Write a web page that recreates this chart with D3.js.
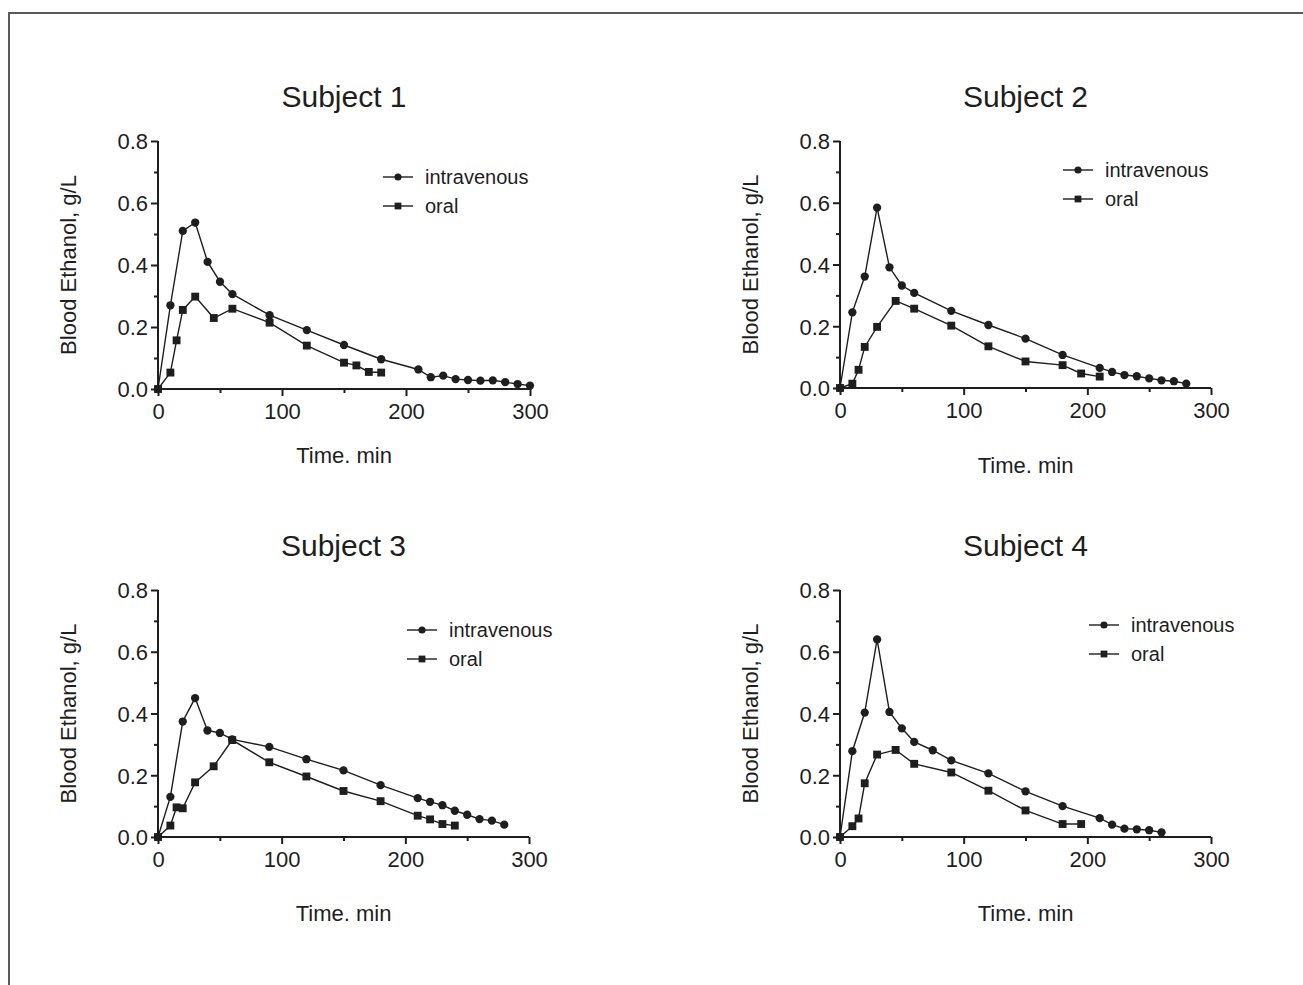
<!DOCTYPE html>
<head>
    <meta charset="utf-8">
    <script src="https://d3js.org/d3.v7.min.js"></script>
    <style>
        body { margin: 0; background: #fff; }
        text { font-family: "Liberation Sans", Arial, sans-serif; fill: #1e1e1e; }
    </style>
</head>

<body>
    <div id="chart"></div>
</body>

<script>

    // ---- data (time in min, blood ethanol in g/L) ----
    const subjects = ["Subject 1", "Subject 2", "Subject 3", "Subject 4"];
    const seriesNames = ["intravenous", "oral"];

    const ivTime1 = [0, 10, 20, 30, 40, 50, 60, 90, 120, 150, 180, 210, 220, 230, 240, 250, 260, 270, 280, 290, 300];
    const ivConc1 = [0, 0.27, 0.51, 0.537, 0.41, 0.346, 0.306, 0.238, 0.19, 0.142, 0.096, 0.063, 0.038, 0.043, 0.032, 0.029, 0.027, 0.028, 0.022, 0.016, 0.011];
    const oralTime1 = [0, 10, 15, 20, 30, 45, 60, 90, 120, 150, 160, 170, 180];
    const oralConc1 = [0, 0.053, 0.157, 0.255, 0.298, 0.229, 0.259, 0.214, 0.14, 0.085, 0.076, 0.055, 0.053];

    const ivTime2 = [0, 10, 20, 30, 40, 50, 60, 90, 120, 150, 180, 210, 220, 230, 240, 250, 260, 270, 280];
    const ivConc2 = [0, 0.245, 0.361, 0.584, 0.391, 0.332, 0.308, 0.25, 0.204, 0.16, 0.107, 0.065, 0.052, 0.042, 0.038, 0.031, 0.025, 0.022, 0.014];
    const oralTime2 = [0, 10, 15, 20, 30, 45, 60, 90, 120, 150, 180, 195, 210];
    const oralConc2 = [0, 0.014, 0.059, 0.133, 0.198, 0.282, 0.257, 0.202, 0.135, 0.086, 0.074, 0.047, 0.037];

    const ivTime3 = [0, 10, 20, 30, 40, 50, 60, 90, 120, 150, 180, 210, 220, 230, 240, 250, 260, 270, 280];
    const ivConc3 = [0, 0.13, 0.374, 0.45, 0.345, 0.337, 0.316, 0.292, 0.252, 0.216, 0.168, 0.126, 0.114, 0.103, 0.085, 0.072, 0.058, 0.053, 0.04];
    const oralTime3 = [0, 10, 15, 20, 30, 45, 60, 90, 120, 150, 180, 210, 220, 230, 240];
    const oralConc3 = [0, 0.037, 0.096, 0.093, 0.177, 0.229, 0.314, 0.242, 0.196, 0.149, 0.116, 0.069, 0.057, 0.042, 0.037];

    const ivTime4 = [0, 10, 20, 30, 40, 50, 60, 75, 90, 120, 150, 180, 210, 220, 230, 240, 250, 260];
    const ivConc4 = [0, 0.278, 0.403, 0.64, 0.405, 0.352, 0.308, 0.281, 0.248, 0.206, 0.148, 0.1, 0.061, 0.04, 0.027, 0.025, 0.022, 0.015];
    const oralTime4 = [0, 10, 15, 20, 30, 45, 60, 90, 120, 150, 180, 195];
    const oralConc4 = [0, 0.035, 0.06, 0.174, 0.267, 0.282, 0.237, 0.209, 0.15, 0.086, 0.042, 0.042];

    const xMajorTicks = [0, 100, 200, 300];
    const xMinorTicks = [50, 150, 250];
    const yMajorTicks = [0, 0.2, 0.4, 0.6, 0.8];
    const yMinorTicks = [0.1, 0.3, 0.5, 0.7];

    const ivTimes = [ivTime1, ivTime2, ivTime3, ivTime4];
    const ivConcs = [ivConc1, ivConc2, ivConc3, ivConc4];
    const oralTimes = [oralTime1, oralTime2, oralTime3, oralTime4];
    const oralConcs = [oralConc1, oralConc2, oralConc3, oralConc4];

    // ---- layout of the four panels ----
    const panels = [
        {x0: 158, x1: 530, y0: 389, y1: 141, titleY: 107, xLabY: 463, yLabX: 76, legX: 383, legY: 177},
        {x0: 840, x1: 1211, y0: 388, y1: 141, titleY: 107, xLabY: 473, yLabX: 758, legX: 1063, legY: 170},
        {x0: 158, x1: 529, y0: 837, y1: 590, titleY: 556, xLabY: 921, yLabX: 76, legX: 407, legY: 630},
        {x0: 840, x1: 1211, y0: 837, y1: 590, titleY: 556, xLabY: 921, yLabX: 758, legX: 1089, legY: 625}
    ];

    const W = 1303, H = 985;
    const ink = "#1e1e1e";

    const svg = d3.select("#chart")
        .append("svg")
            .attr("width", W)
            .attr("height", H);

    // frame (only top and left edges are visible)
    svg.append("path")
        .attr("d", `M9,${H} L9,13 L${W},13`)
        .attr("fill", "none")
        .attr("stroke", "#5a5a5a")
        .attr("stroke-width", 2);

    const circleSym = d3.symbol().type(d3.symbolCircle).size(54);
    const squareSym = d3.symbol().type(d3.symbolSquare).size(62);

    panels.forEach(function(p, i){

        const x = d3.scaleLinear().domain([0, 300]).range([p.x0, p.x1]);
        const y = d3.scaleLinear().domain([0, 0.8]).range([p.y0, p.y1]);

        const g = svg.append("g");

        // X axis
        const gx = g.append("g")
            .attr("transform", `translate(0, ${p.y0})`)
            .call(d3.axisBottom(x).tickValues(xMajorTicks).tickSize(7).tickPadding(7).tickFormat(d3.format("d")));
        g.append("g")
            .attr("transform", `translate(0, ${p.y0})`)
            .call(d3.axisBottom(x).tickValues(xMinorTicks).tickSize(4).tickFormat("").tickSizeOuter(0))
            .select(".domain").remove();

        // Y axis
        const gy = g.append("g")
            .attr("transform", `translate(${p.x0}, 0)`)
            .call(d3.axisLeft(y).tickValues(yMajorTicks).tickSize(7).tickPadding(3).tickFormat(d3.format(".1f")));
        g.append("g")
            .attr("transform", `translate(${p.x0}, 0)`)
            .call(d3.axisLeft(y).tickValues(yMinorTicks).tickSize(4).tickFormat("").tickSizeOuter(0))
            .select(".domain").remove();

        gx.select(".domain").attr("d", `M${p.x0},0H${p.x1}`);
        gy.select(".domain").attr("d", `M0,${p.y0}V${p.y1}`);

        g.selectAll(".domain, .tick line")
            .attr("stroke", ink)
            .attr("stroke-width", 2);
        g.selectAll(".tick text")
            .attr("font-size", 22)
            .attr("font-family", "Liberation Sans, Arial, sans-serif")
            .attr("fill", ink);
        gy.selectAll(".tick text").attr("dy", "0.36em");

        // title
        g.append("text")
            .attr("x", (p.x0 + p.x1) / 2)
            .attr("y", p.titleY)
            .attr("text-anchor", "middle")
            .attr("font-size", 30)
            .text(subjects[i]);

        // axis labels
        g.append("text")
            .attr("x", (p.x0 + p.x1) / 2)
            .attr("y", p.xLabY)
            .attr("text-anchor", "middle")
            .attr("font-size", 22)
            .text("Time. min");

        g.append("text")
            .attr("transform", `translate(${p.yLabX}, ${(p.y0 + p.y1) / 2}) rotate(-90)`)
            .attr("text-anchor", "middle")
            .attr("font-size", 22)
            .text("Blood Ethanol, g/L");

        // series
        const series = [
            {t: ivTimes[i], c: ivConcs[i], sym: circleSym},
            {t: oralTimes[i], c: oralConcs[i], sym: squareSym}
        ];

        const line = d3.line()
            .x(function(d){ return x(d[0]); })
            .y(function(d){ return y(d[1]); });

        series.forEach(function(s){
            const pts = d3.zip(s.t, s.c);
            g.append("path")
                .datum(pts)
                .attr("fill", "none")
                .attr("stroke", ink)
                .attr("stroke-width", 1.4)
                .attr("d", line);
            g.selectAll(null)
                .data(pts)
                .join("path")
                    .attr("transform", function(d){ return `translate(${x(d[0])},${y(d[1])})`; })
                    .attr("d", s.sym)
                    .attr("fill", ink);
        });

        // legend
        series.forEach(function(s, k){
            const ly = p.legY + k * 29;
            g.append("line")
                .attr("x1", p.legX).attr("x2", p.legX + 30)
                .attr("y1", ly).attr("y2", ly)
                .attr("stroke", ink)
                .attr("stroke-width", 1.4);
            g.append("path")
                .attr("transform", `translate(${p.legX + 15},${ly})`)
                .attr("d", k === 0 ? d3.symbol().type(d3.symbolCircle).size(40)() : d3.symbol().type(d3.symbolSquare).size(46)())
                .attr("fill", ink);
            g.append("text")
                .attr("x", p.legX + 42)
                .attr("y", ly)
                .attr("dy", "0.35em")
                .attr("font-size", 20)
                .text(seriesNames[k]);
        });
    });

</script>
</html>
